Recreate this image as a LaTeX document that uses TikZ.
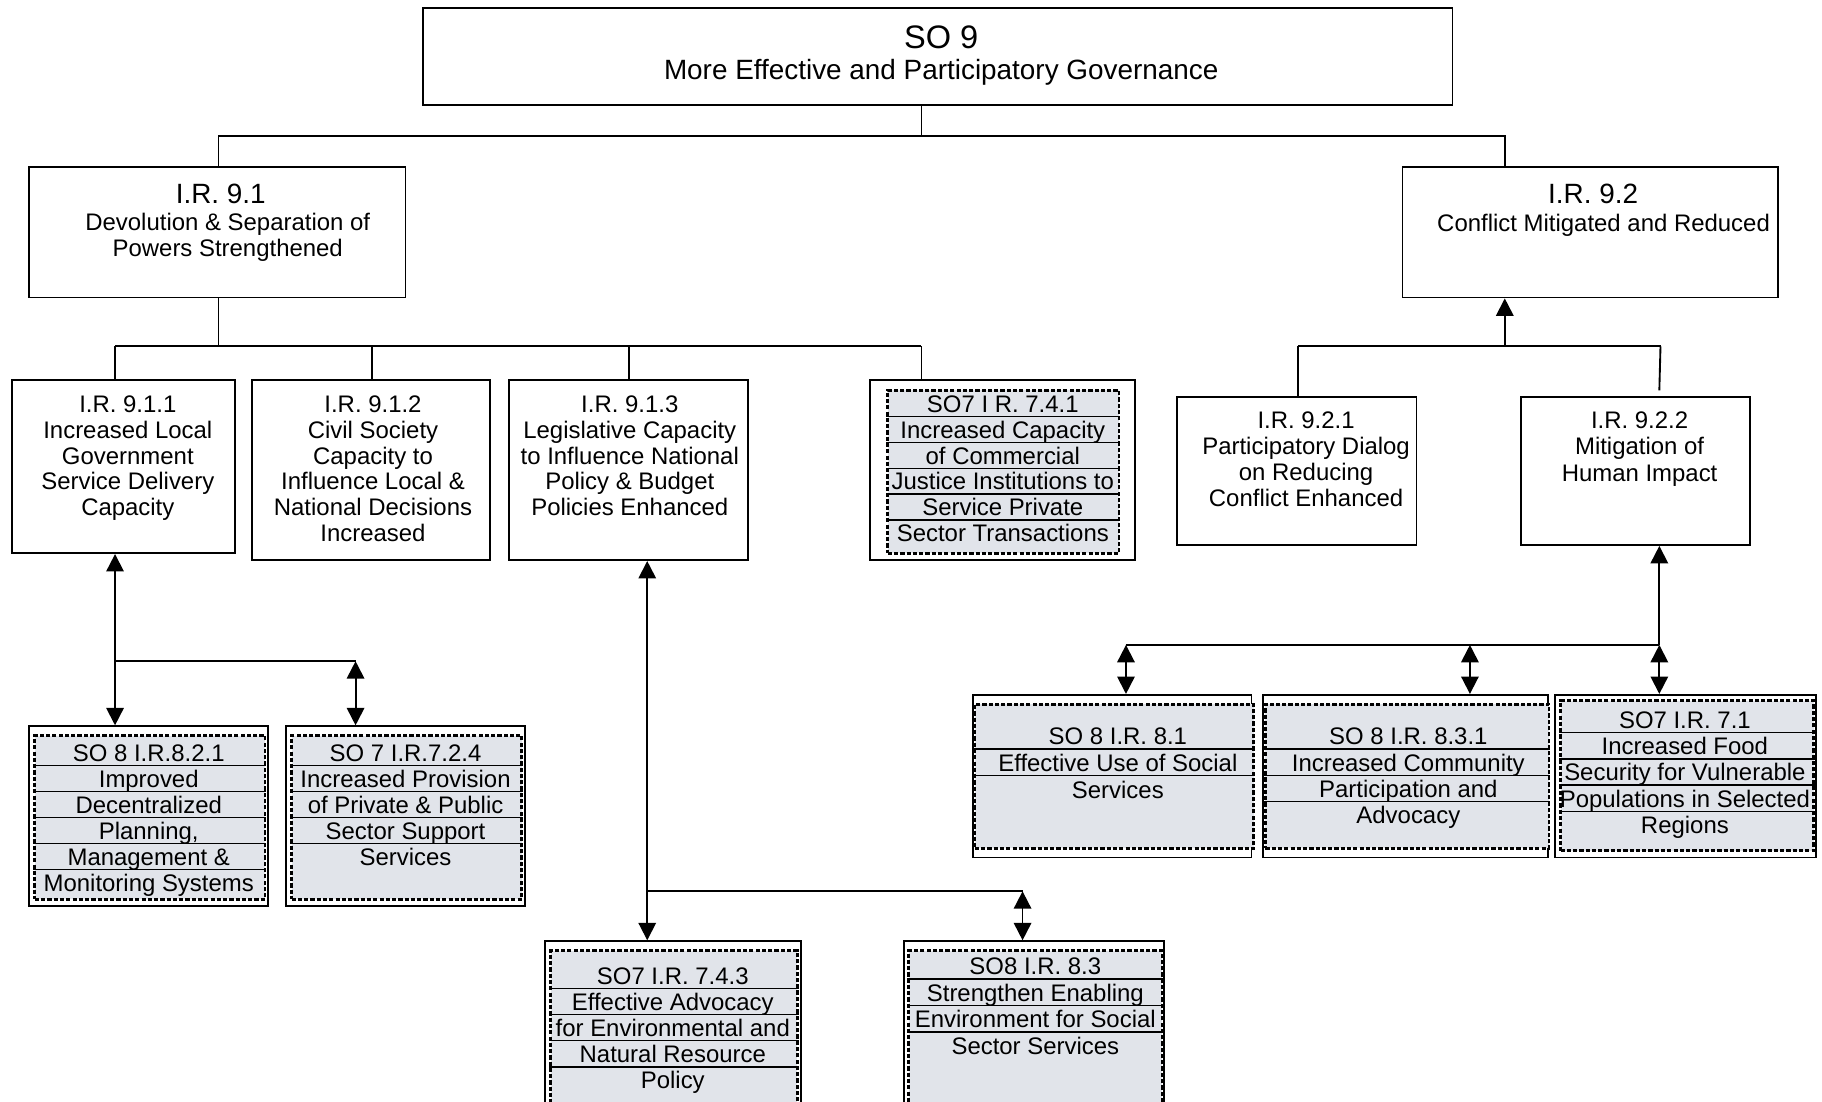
\documentclass[tikz,border=0pt]{standalone}
\usepackage{fontspec}
\setmainfont{Liberation Sans}
\usetikzlibrary{arrows.meta}
\usetikzlibrary{fit}

\definecolor{cellgray}{RGB}{225,228,234}

\begin{document}
\begin{tikzpicture}[x=0.5pt, y=-0.5pt,
	box/.style={draw, line width=0.8pt, inner sep=0pt},
	cell/.style={draw, fill=cellgray, dash pattern=on 1.8pt off 0.9pt, line width=1.2pt, inner sep=0pt},
	txt/.style={inner sep=0pt, text height=7.6pt, text depth=1.6pt, font=\fontsize{10.3}{12}\selectfont},
	head/.style={inner sep=0pt, text height=8.6pt, text depth=1.9pt, font=\fontsize{12}{14}\selectfont},
	rowline/.style={line width=0.6pt},
	wire/.style={line width=0.8pt},
	onearrow/.style={-{Triangle[length=7.5pt,width=7.5pt]}},
	twoarrow/.style={{Triangle[length=7.5pt,width=7.5pt]}-{Triangle[length=7.5pt,width=7.5pt]}}]

	\useasboundingbox (0,0) rectangle (1568,948);
	\clip (0,0) rectangle (1568,948);

% Draw plain boxes.

	%SO 9
	\node[box, fit={(364,7) (1250,90)}] (so9) {};
	\node[inner sep=0pt, font=\fontsize{14}{16}\selectfont] (so9-0) at (810,32) {SO 9};
	\node[inner sep=0pt, font=\fontsize{12}{14}\selectfont] (so9-1) at (810,62) {More Effective and Participatory Governance};

	%I.R. 9.1
	\node[box, fit={(25,144) (349,256)}] (ir91) {};
	\node[head] (ir91-0) at (190,168) {I.R. 9.1};
	\foreach \t [count=\i] in {Devolution \& Separation of, Powers Strengthened}
		\node[txt] (ir91-\i) at (196, 169+23*\i) {\t};

	%I.R. 9.2
	\node[box, fit={(1207,144) (1530,256)}] (ir92) {};
	\node[head] (ir92-0) at (1371,168) {I.R. 9.2};
	\node[txt] (ir92-1) at (1380,193) {Conflict Mitigated and Reduced};

	%I.R. 9.1.1 to 9.1.3
	\node[box, fit={(10,327) (202,476)}] (ir911) {};
	\foreach \t [count=\i from 0] in {I.R. 9.1.1, Increased Local, Government, Service Delivery, Capacity}
		\node[txt] (ir911-\i) at (110, 349+22.2*\i) {\t};

	\node[box, fit={(217,327) (422,482)}] (ir912) {};
	\foreach \t [count=\i from 0] in {I.R. 9.1.2, Civil Society, Capacity to, Influence Local \&, National Decisions, Increased}
		\node[txt] (ir912-\i) at (321, 349+22.2*\i) {\t};

	\node[box, fit={(438,327) (644,482)}] (ir913) {};
	\foreach \t [count=\i from 0] in {I.R. 9.1.3, Legislative Capacity, to Influence National, Policy \& Budget, Policies Enhanced}
		\node[txt] (ir913-\i) at (542, 349+22.2*\i) {\t};

	%I.R. 9.2.1 and 9.2.2
	\node[box, fit={(1013,342) (1219,469)}] (ir921) {};
	\foreach \t [count=\i from 0] in {I.R. 9.2.1, Participatory Dialog, on Reducing, Conflict Enhanced}
		\node[txt] (ir921-\i) at (1124, 363+22.4*\i) {\t};

	\node[box, fit={(1309,342) (1506,469)}] (ir922) {};
	\foreach \t [count=\i from 0] in {I.R. 9.2.2, Mitigation of, Human Impact}
		\node[txt] (ir922-\i) at (1411, 363+22.5*\i) {\t};

% Draw shaded boxes.

	%SO7 I.R. 7.4.1
	\node[box, fit={(749,327) (977,482)}] (so741) {};
	\node[cell, fit={(764,336) (963,476)}] (so741in) {};
	\foreach \t [count=\i from 0] in {SO7 I R. 7.4.1, Increased Capacity, of Commercial, Justice Institutions to, Service Private, Sector Transactions}
		\node[txt] (so741-\i) at (863, 349+22.2*\i) {\t};
	\foreach \j in {0,...,4}
		\draw[rowline] (so741in.west |- so741-\j.south) -- (so741in.east |- so741-\j.south);

	%SO 8 I.R.8.2.1
	\node[box, fit={(25,625) (231,780)}] (so821) {};
	\node[cell, fit={(30,633) (228,774)}] (so821in) {};
	\foreach \t [count=\i from 0] in {SO 8 I.R.8.2.1, Improved, Decentralized, {Planning,}, Management \&, Monitoring Systems}
		\node[txt] (so821-\i) at (128, 649+22.4*\i) {\t};
	\foreach \j in {0,...,4}
		\draw[rowline] (so821in.west |- so821-\j.south) -- (so821in.east |- so821-\j.south);

	%SO 7 I.R.7.2.4
	\node[box, fit={(246,625) (452,780)}] (so724) {};
	\node[cell, fit={(251,633) (449,774)}] (so724in) {};
	\foreach \t [count=\i from 0] in {SO 7 I.R.7.2.4, Increased Provision, of Private \& Public, Sector Support, Services}
		\node[txt] (so724-\i) at (349, 649+22.4*\i) {\t};
	\foreach \j in {0,...,3}
		\draw[rowline] (so724in.west |- so724-\j.south) -- (so724in.east |- so724-\j.south);

	%SO 8 I.R. 8.1
	\node[box, fit={(837,598) (1077,738)}] (so81) {};
	\node[cell, fit={(839,606) (1079,730)}] (so81in) {};
	\foreach \t [count=\i from 0] in {SO 8 I.R. 8.1, Effective Use of Social, Services}
		\node[txt] (so81-\i) at (962, 635+23*\i) {\t};
	\foreach \j in {0,1}
		\draw[rowline] (so81in.west |- so81-\j.south) -- (so81in.east |- so81-\j.south);

	%SO 8 I.R. 8.3.1
	\node[box, fit={(1087,598) (1332,738)}] (so831) {};
	\node[cell, fit={(1089,606) (1333,730)}] (so831in) {};
	\foreach \t [count=\i from 0] in {SO 8 I.R. 8.3.1, Increased Community, Participation and, Advocacy}
		\node[txt] (so831-\i) at (1212, 635+22.7*\i) {\t};
	\foreach \j in {0,...,2}
		\draw[rowline] (so831in.west |- so831-\j.south) -- (so831in.east |- so831-\j.south);

	%SO7 I.R. 7.1
	\node[box, fit={(1338,598) (1563,738)}] (so71) {};
	\node[cell, fit={(1343,603) (1561,732)}] (so71in) {};
	\foreach \t [count=\i from 0] in {SO7 I.R. 7.1, Increased Food, Security for Vulnerable, Populations in Selected, Regions}
		\node[txt] (so71-\i) at (1450, 621+22.5*\i) {\t};
	\foreach \j in {0,...,3}
		\draw[rowline] (so71in.west |- so71-\j.south) -- (so71in.east |- so71-\j.south);

	%SO7 I.R. 7.4.3
	\node[box, fit={(469,810) (689,975)}] (so743) {};
	\node[cell, fit={(474,818) (686,968)}] (so743in) {};
	\foreach \t [count=\i from 0] in {SO7 I.R. 7.4.3, Effective Advocacy, for Environmental and, Natural Resource, Policy}
		\node[txt] (so743-\i) at (579, 841+22.5*\i) {\t};
	\foreach \j in {0,...,3}
		\draw[rowline] (so743in.west |- so743-\j.south) -- (so743in.east |- so743-\j.south);

	%SO8 I.R. 8.3
	\node[box, fit={(778,810) (1002,975)}] (so83) {};
	\node[cell, fit={(782,818) (1000,968)}] (so83in) {};
	\foreach \t [count=\i from 0] in {SO8 I.R. 8.3, Strengthen Enabling, Environment for Social, Sector Services}
		\node[txt] (so83-\i) at (891, 833+22.7*\i) {\t};
	\foreach \j in {0,...,2}
		\draw[rowline] (so83in.west |- so83-\j.south) -- (so83in.east |- so83-\j.south);

% Define junctions.

	\coordinate (j0) at (793,117);
	\coordinate (j91) at (188,117);
	\coordinate (j92) at (1295,117);

	\coordinate (j1) at (188,298);
	\coordinate (j911) at (99,298);
	\coordinate (j912) at (320,298);
	\coordinate (j913) at (541,298);
	\coordinate (j741) at (793,298);

	\coordinate (j2) at (1295,298);
	\coordinate (j921) at (1117,298);
	\coordinate (j922) at (1429,298);
	\coordinate (j922end) at (1428,336);

	\coordinate (j3) at (1428,555);
	\coordinate (j81) at (969,555);
	\coordinate (j831) at (1265,555);

	\coordinate (j4) at (99,569);
	\coordinate (j724) at (306,569);

	\coordinate (j5) at (557,767);
	\coordinate (j83) at (880,767);

% Draw connectors.

	\draw[wire] (so9.south -| j0) -- (j0);
	\draw[wire] (ir91.north -| j91) -- (j91) -- (j92) -- (ir92.north -| j92);

	\draw[wire] (ir91.south -| j1) -- (j1);
	\draw[wire] (j911) -- (j741);
	\foreach \n/\j in {ir911/j911, ir912/j912, ir913/j913, so741/j741}
		\draw[wire] (\j) -- (\n.north -| \j);

	\draw[wire, onearrow] (j2) -- (ir92.south -| j2);
	\draw[wire] (j921) -- (j922);
	\draw[wire] (j921) -- (ir921.north -| j921);
	\draw[wire] (j922) -- (j922end);

	\draw[wire, onearrow] (j3) -- (ir922.south -| j3);
	\draw[wire] (j81) -- (j3);
	\foreach \n/\j in {so81/j81, so831/j831, so71/j3}
		\draw[wire, twoarrow] (\j) -- (\n.north -| \j);

	\draw[wire, twoarrow] (ir911.south -| j4) -- (so821.north -| j4);
	\draw[wire] (j4) -- (j724);
	\draw[wire, twoarrow] (j724) -- (so724.north -| j724);

	\draw[wire, twoarrow] (ir913.south -| j5) -- (so743.north -| j5);
	\draw[wire] (j5) -- (j83);
	\draw[wire, twoarrow] (j83) -- (so83.north -| j83);

\end{tikzpicture}
\end{document}
